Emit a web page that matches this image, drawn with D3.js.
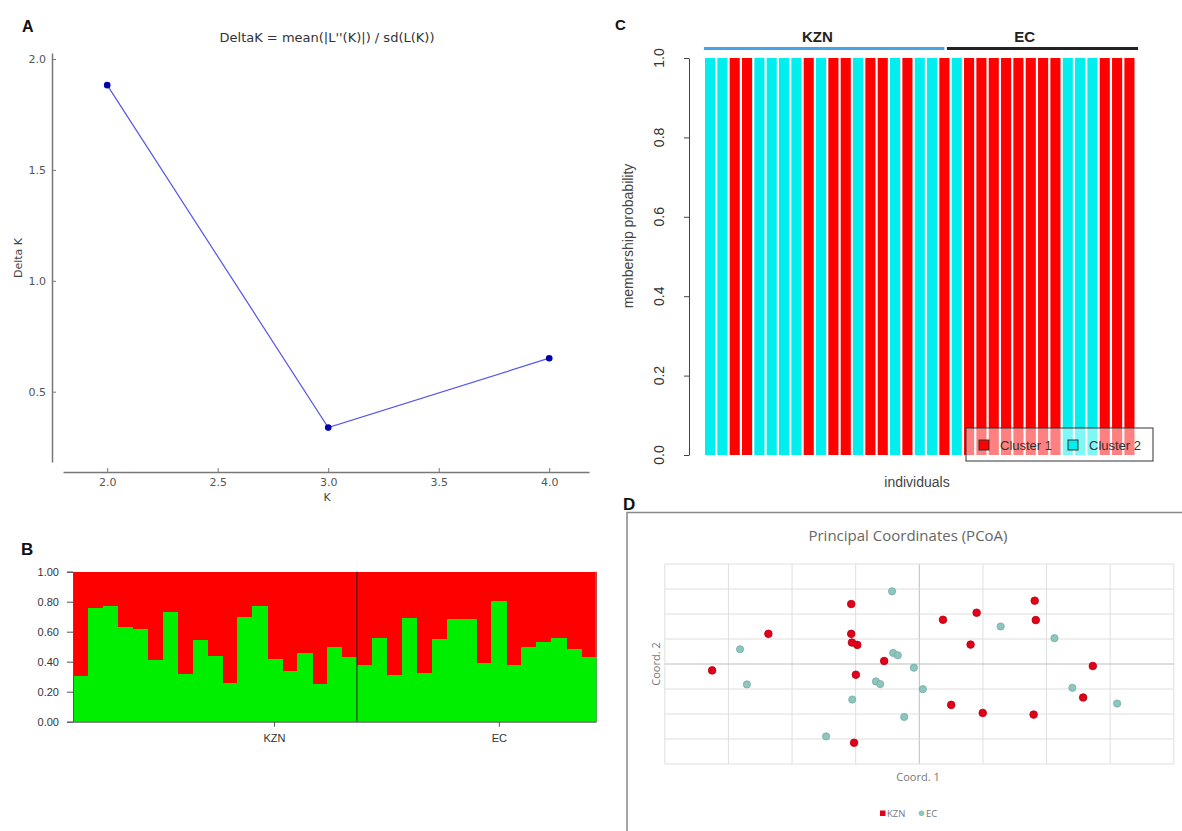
<!DOCTYPE html>
<html>
<head>
<meta charset="utf-8">
<script src="https://cdn.jsdelivr.net/npm/d3@7"></script>
<style>
body{margin:0;background:#fff;}
svg{display:block;}
.lblA{font-family:"DejaVu Sans",sans-serif;}
.lblR{font-family:"Liberation Sans",Arial,sans-serif;}
.lblX{font-family:"Open Sans","Noto Sans",sans-serif;}
</style>
</head>
<body>
<svg id="fig" width="1182" height="831"></svg>
<script>
// panel A - Evanno delta K
var kValues = [2, 3, 4];
var deltaK = [1.882, 0.338, 0.651];
var kTicks = [2.0, 2.5, 3.0, 3.5, 4.0];
var dkTicks = [0.5, 1.0, 1.5, 2.0];

// panel B - STRUCTURE bar plot (green share, rest red)
var structKZN = [0.304,0.760,0.771,0.633,0.616,0.410,0.729,0.318,0.544,0.438,0.260,0.700,0.771,0.416,0.338,0.456,0.251,0.500,0.433];
var structEC = [0.378,0.556,0.311,0.693,0.327,0.551,0.684,0.684,0.393,0.804,0.378,0.500,0.533,0.556,0.482,0.429];
var structTickLabels = ["KZN", "EC"];
var structTickPos = [13.45, 28.5];
var structYTicks = [0, 0.2, 0.4, 0.6, 0.8, 1.0];

// panel C - cluster membership (1 = Cluster 1, 2 = Cluster 2)
var membership = [2,2,1,1,2,2,2,2,1,2,1,1,2,1,1,2,1,2,2,1,2,1,1,1,1,1,1,1,1,2,2,2,1,1,1];
var groupNames = ["KZN", "EC"];
var groupSpans = [[0, 19.5], [19.7, 35.2]];
var groupLabelPos = [9.2, 26.0];
var memTicks = [0, 0.2, 0.4, 0.6, 0.8, 1.0];
var clusterNames = ["Cluster 1", "Cluster 2"];

// panel D - PCoA
var pcoaKZNx = [-3.256,-2.372,-1.070,-1.070,-1.059,-0.975,-0.552,-0.997,-1.025,0.372,0.901,0.806,0.501,0.997,1.814,1.831,1.797,2.727,2.575];
var pcoaKZNy = [-0.255,1.206,2.399,1.206,0.858,0.764,0.121,-0.429,-3.150,1.769,2.051,0.777,-1.635,-1.957,2.533,1.756,-2.024,-0.080,-1.340];
var pcoaECx = [-2.817,-2.710,-0.428,-0.411,-0.338,-0.085,-0.682,-0.614,0.056,-1.054,-0.237,-1.465,1.279,2.124,2.406,3.110];
var pcoaECy = [0.590,-0.818,2.909,0.442,0.349,-0.147,-0.697,-0.804,-1.005,-1.421,-2.118,-2.895,1.501,1.032,-0.952,-1.582];
var gridSteps = [-4,-3,-2,-1,0,1,2,3,4];

var svg = d3.select("#fig");

function panelLetter(t, x, y, size) {
	svg.append("text").attr("x", x).attr("y", y).text(t)
		.attr("font-family", "Liberation Sans, Arial, sans-serif")
		.attr("font-weight", "bold").attr("font-size", size).attr("fill", "#111");
}

/* ---------- A ---------- */
function drawA() {
	var g = svg.append("g").attr("class", "lblA");
	var x = d3.scaleLinear().domain([1.8, 4.18]).range([63, 589]);
	var y = d3.scaleLinear().domain([0.183, 2.027]).range([462, 53]);

	var yAxis = g.append("g").attr("transform", "translate(52,0)")
		.call(d3.axisLeft(y).tickValues(dkTicks).tickFormat(d3.format(".1f")).tickSizeInner(-4).tickSizeOuter(0).tickPadding(6));
	var xAxis = g.append("g").attr("transform", "translate(0,472)")
		.call(d3.axisBottom(x).tickValues(kTicks).tickFormat(d3.format(".1f")).tickSizeInner(-4).tickSizeOuter(0).tickPadding(6));
	[yAxis, xAxis].forEach(function(a) {
		a.select(".domain").attr("stroke", "#777").attr("stroke-width", 1.5);
		a.selectAll(".tick line").attr("stroke", "#777");
		a.selectAll(".tick text").attr("fill", "#555").attr("font-size", 11).attr("font-family", "DejaVu Sans, sans-serif");
	});

	var pts = kValues.map(function(k, i) { return [k, deltaK[i]]; });
	g.append("path").datum(pts)
		.attr("d", d3.line().x(function(d) { return x(d[0]); }).y(function(d) { return y(d[1]); }))
		.attr("fill", "none").attr("stroke", "#5555ee").attr("stroke-width", 1.2);
	g.selectAll("circle.pt").data(pts).enter().append("circle")
		.attr("cx", function(d) { return x(d[0]); })
		.attr("cy", function(d) { return y(d[1]); })
		.attr("r", 3.3).attr("fill", "#0000b0");

	g.append("text").attr("x", 327).attr("y", 42).attr("text-anchor", "middle")
		.attr("font-size", 13).attr("fill", "#333").text("DeltaK = mean(|L''(K)|) / sd(L(K))");
	g.append("text").attr("x", 327).attr("y", 501).attr("text-anchor", "middle")
		.attr("font-size", 11).attr("fill", "#444").text("K");
	g.append("text").attr("transform", "translate(22,258) rotate(-90)").attr("text-anchor", "middle")
		.attr("font-size", 11).attr("fill", "#444").text("Delta K");
	panelLetter("A", 22, 32, 16);
}

/* ---------- B ---------- */
function drawB() {
	var g = svg.append("g").attr("class", "lblR");
	var vals = structKZN.concat(structEC);
	var x = d3.scaleBand().domain(d3.range(vals.length)).range([73, 596]);
	var xl = d3.scaleLinear().domain([0, vals.length]).range([73, 596]);
	var y = d3.scaleLinear().domain([0, 1]).range([721.7, 571.7]);

	g.selectAll("rect.red").data(vals).enter().append("rect")
		.attr("x", function(d, i) { return x(i); }).attr("width", x.bandwidth() + 0.5)
		.attr("y", y(1)).attr("height", function(d) { return y(d) - y(1); })
		.attr("fill", "#ff0000").attr("shape-rendering", "crispEdges");
	g.selectAll("rect.green").data(vals).enter().append("rect")
		.attr("x", function(d, i) { return x(i); }).attr("width", x.bandwidth() + 0.5)
		.attr("y", function(d) { return y(d); }).attr("height", function(d) { return y(0) - y(d); })
		.attr("fill", "#00ee00").attr("shape-rendering", "crispEdges");

	g.append("line").attr("x1", xl(structKZN.length)).attr("x2", xl(structKZN.length))
		.attr("y1", y(1)).attr("y2", y(0)).attr("stroke", "#222").attr("stroke-width", 1);
	g.append("line").attr("x1", 596).attr("x2", 596).attr("y1", y(1)).attr("y2", y(0))
		.attr("stroke", "#888").attr("stroke-width", 1);

	var ya = g.append("g").attr("transform", "translate(73,0)")
		.call(d3.axisLeft(y).tickValues(structYTicks).tickFormat(d3.format(".2f")).tickSize(6).tickPadding(8));
	var xa = g.append("g").attr("transform", "translate(0,721.7)")
		.call(d3.axisBottom(xl).tickValues(structTickPos).tickFormat(function(d, i) { return structTickLabels[i]; }).tickSize(5).tickSizeOuter(0).tickPadding(8));
	[ya, xa].forEach(function(a) {
		a.select(".domain").attr("stroke", "#555");
		a.selectAll(".tick line").attr("stroke", "#555");
		a.selectAll(".tick text").attr("fill", "#333").attr("font-size", 11).attr("font-family", "Liberation Sans, Arial, sans-serif");
	});
	panelLetter("B", 21, 555, 17);
}

/* ---------- C ---------- */
function drawC() {
	var g = svg.append("g").attr("class", "lblR");
	var x = d3.scaleBand().domain(d3.range(membership.length)).range([705, 1134.5]).paddingInner(0.18).paddingOuter(0);
	var xl = d3.scaleLinear().domain([0, membership.length]).range([705 - x.step() * 0.09, 1134.5 + x.step() * 0.09]);
	var y = d3.scaleLinear().domain([0, 1]).range([455, 58]);
	var col = ["#ff0000", "#00eeee"];

	g.selectAll("rect.bar").data(membership).enter().append("rect")
		.attr("x", function(d, i) { return x(i); }).attr("width", x.bandwidth())
		.attr("y", y(1)).attr("height", y(0) - y(1))
		.attr("fill", function(d) { return col[d - 1]; });

	var ya = g.append("g").attr("transform", "translate(689,0)")
		.call(d3.axisLeft(y).tickValues(memTicks).tickFormat("").tickSize(5).tickSizeOuter(0));
	ya.select(".domain").attr("stroke", "#444");
	ya.selectAll(".tick line").attr("stroke", "#444");
	g.selectAll("text.ytl").data(memTicks).enter().append("text")
		.attr("transform", function(d) { return "translate(664," + y(d) + ") rotate(-90)"; })
		.attr("text-anchor", "middle").attr("font-size", 14).attr("fill", "#333")
		.text(d3.format(".1f"));

	g.selectAll("line.grp").data(groupSpans).enter().append("line")
		.attr("x1", function(d) { return xl(d[0]); }).attr("x2", function(d) { return xl(d[1]); })
		.attr("y1", 48.5).attr("y2", 48.5).attr("stroke-width", 3)
		.attr("stroke", function(d, i) { return i == 0 ? "#45a3e6" : "#222"; });
	g.selectAll("text.grp").data(groupNames).enter().append("text")
		.attr("x", function(d, i) { return xl(groupLabelPos[i]); }).attr("y", 42)
		.attr("text-anchor", "middle").attr("font-weight", "bold").attr("font-size", 15).attr("fill", "#222")
		.text(function(d) { return d; });

	g.append("text").attr("transform", "translate(633,236) rotate(-90)").attr("text-anchor", "middle")
		.attr("font-size", 14).attr("fill", "#444").text("membership probability");
	g.append("text").attr("x", 917).attr("y", 487).attr("text-anchor", "middle")
		.attr("font-size", 14).attr("fill", "#444").text("individuals");

	// legend
	var lg = g.append("g").attr("transform", "translate(966,428)");
	lg.append("rect").attr("width", 187).attr("height", 33)
		.attr("fill", "#fff").attr("fill-opacity", 0.5).attr("stroke", "#333").attr("stroke-width", 1);
	clusterNames.forEach(function(n, i) {
		lg.append("rect").attr("x", 13 + i * 89).attr("y", 12).attr("width", 10).attr("height", 10)
			.attr("fill", col[i]).attr("stroke", "#333").attr("stroke-width", 1);
		lg.append("text").attr("x", 34 + i * 89).attr("y", 22).attr("font-size", 13).attr("fill", "#333").text(n);
	});
	panelLetter("C", 615, 30, 15);
}

/* ---------- D ---------- */
function drawD() {
	var g = svg.append("g").attr("class", "lblX");
	g.append("path").attr("d", "M627,831V512.5H1182").attr("fill", "none").attr("stroke", "#888").attr("stroke-width", 1.5);

	var x = d3.scaleLinear().domain([-4, 4]).range([664.8, 1173.8]);
	var y = d3.scaleLinear().domain([-4, 4]).range([764, 564]);

	g.selectAll("line.vg").data(gridSteps).enter().append("line")
		.attr("x1", function(d) { return x(d); }).attr("x2", function(d) { return x(d); })
		.attr("y1", y(-4)).attr("y2", y(4))
		.attr("stroke", function(d) { return d == 0 ? "#bdbdbd" : "#dedede"; }).attr("stroke-width", 1);
	g.selectAll("line.hg").data(gridSteps).enter().append("line")
		.attr("x1", x(-4)).attr("x2", x(4))
		.attr("y1", function(d) { return y(d); }).attr("y2", function(d) { return y(d); })
		.attr("stroke", function(d) { return d == 0 ? "#bdbdbd" : "#dedede"; }).attr("stroke-width", 1);

	var ec = pcoaECx.map(function(v, i) { return [v, pcoaECy[i]]; });
	var kzn = pcoaKZNx.map(function(v, i) { return [v, pcoaKZNy[i]]; });
	g.selectAll("circle.ec").data(ec).enter().append("circle")
		.attr("cx", function(d) { return x(d[0]); }).attr("cy", function(d) { return y(d[1]); })
		.attr("r", 3.6).attr("fill", "#8cc6bf").attr("stroke", "#72aca5").attr("stroke-width", 0.8);
	g.selectAll("circle.kzn").data(kzn).enter().append("circle")
		.attr("cx", function(d) { return x(d[0]); }).attr("cy", function(d) { return y(d[1]); })
		.attr("r", 3.8).attr("fill", "#e3001b").attr("stroke", "#b00010").attr("stroke-width", 0.8);

	g.append("text").attr("x", 908).attr("y", 541).attr("text-anchor", "middle")
		.attr("font-size", 15).attr("fill", "#666").text("Principal Coordinates (PCoA)");
	g.append("text").attr("x", 918).attr("y", 781).attr("text-anchor", "middle")
		.attr("font-size", 11).attr("fill", "#777").text("Coord. 1");
	g.append("text").attr("transform", "translate(660,664) rotate(-90)").attr("text-anchor", "middle")
		.attr("font-size", 11).attr("fill", "#777").text("Coord. 2");

	g.append("rect").attr("x", 880).attr("y", 810.5).attr("width", 5.5).attr("height", 5.5).attr("fill", "#e3001b");
	g.append("text").attr("x", 887).attr("y", 817).attr("font-size", 9.5).attr("fill", "#777").text("KZN");
	g.append("circle").attr("cx", 921.5).attr("cy", 813.3).attr("r", 2.8).attr("fill", "#8cc6bf");
	g.append("text").attr("x", 926).attr("y", 817).attr("font-size", 9.5).attr("fill", "#777").text("EC");
	panelLetter("D", 623, 510, 17);
}

drawA();
drawB();
drawC();
drawD();
</script>
</body>
</html>
